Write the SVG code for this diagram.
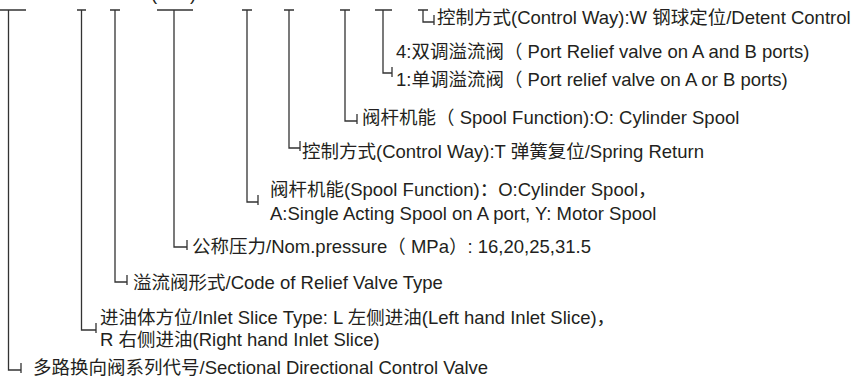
<svg xmlns="http://www.w3.org/2000/svg" width="858" height="379" viewBox="0 0 858 379">
<style>
text{font-family:"Liberation Sans","Noto Sans CJK SC",sans-serif;font-size:18.5px;fill:#231f20}
.c path{fill:none;stroke:#333;stroke-width:1.3}
</style>
<rect width="858" height="379" fill="#fff"/>
<g id="top-parens"><text x="151" y="0">(</text><text x="190" y="0">)</text></g>
<g class="c" id="connectors">
<path d="M0 10H26M8.5 10V370H21M21 363V373"/>
<path d="M77 10H86M81.5 10V330H96M96 323V333"/>
<path d="M110 10H120M115 10V282H127M127 275V285"/>
<path d="M157 10H193M174 10V247H187M187 240V250"/>
<path d="M242 10H252M247 10V202H258M258 195V205"/>
<path d="M284 10H294M289 10V148H300M300 141V151"/>
<path d="M340 10H350M345 10V121H357M357 114V124"/>
<path d="M375 10H392M383 10V73H392M392 67V77"/>
<path d="M418 10H428M423 10V22H434M434 15V25"/>
</g>
<g id="n1"><text x="437" y="24">控制方式(Control Way):W 钢球定位/Detent Control</text></g>
<g id="n2"><text x="396" y="58">4:双调溢流阀（ Port Relief valve on A and B ports)</text><text x="396" y="86">1:单调溢流阀（ Port relief valve on A or B ports)</text></g>
<g id="n3"><text x="362" y="124">阀杆机能（ Spool Function):O: Cylinder Spool</text></g>
<g id="n4"><text x="302" y="158">控制方式(Control Way):T 弹簧复位/Spring Return</text></g>
<g id="n5"><text x="270" y="196">阀杆机能(Spool Function)：O:Cylinder Spool，</text><text x="270" y="220">A:Single Acting Spool on A port, Y: Motor Spool</text></g>
<g id="n6"><text x="192" y="253">公称压力/Nom.pressure（ MPa）: 16,20,25,31.5</text></g>
<g id="n7"><text x="133" y="289">溢流阀形式/Code of Relief Valve Type</text></g>
<g id="n8"><text x="100" y="324">进油体方位/Inlet Slice Type: L 左侧进油(Left hand Inlet Slice)，</text><text x="100" y="346">R 右侧进油(Right hand Inlet Slice)</text></g>
<g id="n9"><text x="33" y="374">多路换向阀系列代号/Sectional Directional Control Valve</text></g>
</svg>
